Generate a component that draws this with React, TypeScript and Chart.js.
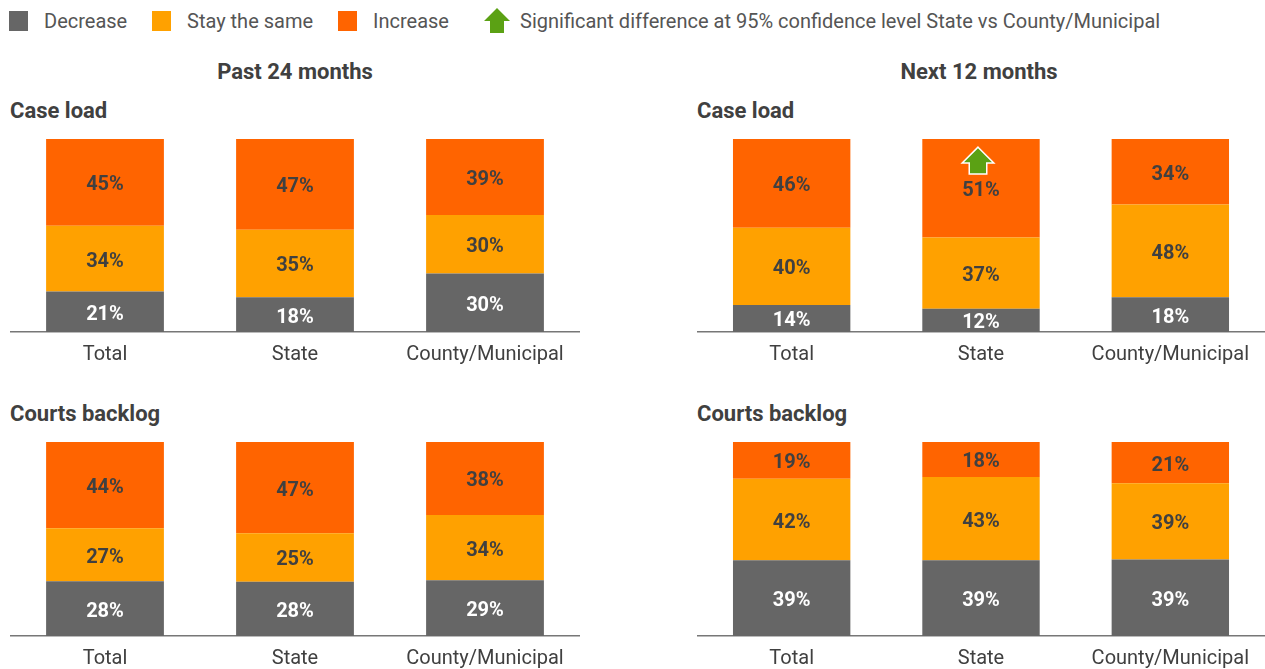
import React, { useEffect, useRef } from "react";
import { Chart, registerables } from "chart.js";
Chart.register(...registerables);

const categories = ["Total", "State", "County/Municipal"];
const seriesNames = ["Decrease", "Stay the same", "Increase"];
const seriesColors = ["#666666", "#FFA100", "#FF6400"];
const valueLabelColors = ["#ffffff", "#404040", "#404040"];
const significanceLabel = "Significant difference at 95% confidence level State vs County/Municipal";

const past24CaseDecrease = [21, 18, 30];
const past24CaseStay = [34, 35, 30];
const past24CaseIncrease = [45, 47, 39];

const past24BacklogDecrease = [28, 28, 29];
const past24BacklogStay = [27, 25, 34];
const past24BacklogIncrease = [44, 47, 38];

const next12CaseDecrease = [14, 12, 18];
const next12CaseStay = [40, 37, 48];
const next12CaseIncrease = [46, 51, 34];
const next12CaseIncreaseSignificant = [false, true, false];

const next12BacklogDecrease = [39, 39, 39];
const next12BacklogStay = [42, 43, 39];
const next12BacklogIncrease = [19, 18, 21];

const noSig = [false, false, false];

const FONT = "Roboto, 'Noto Sans', sans-serif";
const GREEN = "#5BA114";

function drawArrow(ctx: CanvasRenderingContext2D, cx: number, tipY: number, outline: boolean) {
  ctx.save();
  ctx.beginPath();
  ctx.moveTo(cx, tipY);
  ctx.lineTo(cx + 14, tipY + 14);
  ctx.lineTo(cx + 8, tipY + 14);
  ctx.lineTo(cx + 8, tipY + 25);
  ctx.lineTo(cx - 8, tipY + 25);
  ctx.lineTo(cx - 8, tipY + 14);
  ctx.lineTo(cx - 14, tipY + 14);
  ctx.closePath();
  if (outline) {
    ctx.strokeStyle = "#ffffff";
    ctx.lineWidth = 3;
    ctx.lineJoin = "miter";
    ctx.stroke();
  }
  ctx.fillStyle = GREEN;
  ctx.fill();
  ctx.restore();
}

const valueLabelPlugin = {
  id: "valueLabels",
  afterDatasetsDraw(chart: any) {
    const ctx = chart.ctx as CanvasRenderingContext2D;
    const opts = chart.options.plugins.valueLabels || {};
    const sig: boolean[][] = opts.significant || [];
    const raw: number[][] = opts.raw || [];
    chart.data.datasets.forEach((ds: any, di: number) => {
      const meta = chart.getDatasetMeta(di);
      meta.data.forEach((el: any, i: number) => {
        const v = raw[di] ? raw[di][i] : ds.data[i];
        const y = (el.y + el.base) / 2;
        ctx.save();
        ctx.font = `bold 20px ${FONT}`;
        ctx.fillStyle = valueLabelColors[di];
        ctx.textAlign = "center";
        ctx.textBaseline = "middle";
        ctx.fillText(`${v}%`, el.x, y + 3);
        ctx.restore();
        if (sig[di] && sig[di][i]) {
          drawArrow(ctx, el.x - 3, y - 40, true);
        }
      });
    });
  },
};

type PanelProps = {
  left: number;
  top: number;
  width: number;
  plotHeight: number;
  decrease: number[];
  stay: number[];
  increase: number[];
  increaseSig: boolean[];
};

function Panel({ left, top, width, plotHeight, decrease, stay, increase, increaseSig }: PanelProps) {
  const ref = useRef<HTMLCanvasElement | null>(null);
  const axisH = 45;
  useEffect(() => {
    if (!ref.current) return;
    const series = [decrease, stay, increase];
    // 100% stacked: each bar is scaled to its own total
    const totals = categories.map((_, i) => series.reduce((s, d) => s + d[i], 0));
    const chart = new Chart(ref.current, {
      type: "bar",
      data: {
        labels: categories,
        datasets: series.map((d, i) => ({
          label: seriesNames[i],
          data: d.map((v, j) => (v / totals[j]) * 100),
          backgroundColor: seriesColors[i],
          borderWidth: 0,
          categoryPercentage: 1,
          barPercentage: 0.62,
        })),
      },
      options: {
        responsive: false,
        maintainAspectRatio: false,
        animation: false,
        layout: { padding: 0 },
        plugins: {
          legend: { display: false },
          tooltip: { enabled: false },
          title: { display: false },
          valueLabels: { significant: [noSig, noSig, increaseSig], raw: series },
        } as any,
        scales: {
          x: {
            stacked: true,
            grid: { display: false, drawTicks: false },
            border: { display: true, color: "#777777", width: 1.5 },
            ticks: {
              padding: 11,
              color: "#404040",
              font: { family: FONT, size: 20 },
              maxRotation: 0,
              autoSkip: false,
            },
            afterFit: (scale: any) => {
              scale.height = axisH;
            },
          },
          y: {
            stacked: true,
            display: false,
            min: 0,
            max: 100,
          },
        },
      },
      plugins: [valueLabelPlugin],
    });
    return () => chart.destroy();
  }, []);
  return (
    <canvas
      ref={ref}
      width={width}
      height={plotHeight + axisH}
      style={{ position: "absolute", left, top, width, height: plotHeight + axisH }}
    />
  );
}

function LegendSquare({ x, color, label }: { x: number; color: string; label: string }) {
  return (
    <>
      <div style={{ position: "absolute", left: x, top: 11, width: 19, height: 20, background: color }} />
      <div style={{ position: "absolute", left: x + 35, top: 9, lineHeight: "24px", fontSize: 20, color: "#555555", whiteSpace: "nowrap" }}>
        {label}
      </div>
    </>
  );
}

export default function App() {
  const titleStyle: React.CSSProperties = {
    position: "absolute",
    fontWeight: "bold",
    fontSize: 22,
    lineHeight: "26px",
    color: "#404040",
    whiteSpace: "nowrap",
  };
  return (
    <div style={{ position: "fixed", left: 0, top: 0, width: 1265, height: 669, background: "#fff", fontFamily: FONT, overflow: "hidden" }}>
      <LegendSquare x={9} color={seriesColors[0]} label={seriesNames[0]} />
      <LegendSquare x={152} color={seriesColors[1]} label={seriesNames[1]} />
      <LegendSquare x={338} color={seriesColors[2]} label={seriesNames[2]} />
      <svg style={{ position: "absolute", left: 483, top: 8 }} width={28} height={26} viewBox="0 0 28 26">
        <polygon points="14,0 27,13 21,13 21,25 7,25 7,13 1,13" fill={GREEN} />
      </svg>
      <div style={{ position: "absolute", left: 520, top: 9, lineHeight: "24px", fontSize: 20, color: "#555555", whiteSpace: "nowrap" }}>
        {significanceLabel}
      </div>

      <div style={{ ...titleStyle, left: 0, width: 590, textAlign: "center", top: 59 }}>Past 24 months</div>
      <div style={{ ...titleStyle, left: 690, width: 578, textAlign: "center", top: 59 }}>Next 12 months</div>
      <div style={{ ...titleStyle, left: 10, top: 98 }}>Case load</div>
      <div style={{ ...titleStyle, left: 697, top: 98 }}>Case load</div>
      <div style={{ ...titleStyle, left: 10, top: 401 }}>Courts backlog</div>
      <div style={{ ...titleStyle, left: 697, top: 401 }}>Courts backlog</div>

      <Panel left={10} top={139} width={570} plotHeight={193}
        decrease={past24CaseDecrease} stay={past24CaseStay} increase={past24CaseIncrease} increaseSig={noSig} />
      <Panel left={697} top={139} width={568} plotHeight={193}
        decrease={next12CaseDecrease} stay={next12CaseStay} increase={next12CaseIncrease} increaseSig={next12CaseIncreaseSignificant} />
      <Panel left={10} top={442} width={570} plotHeight={194}
        decrease={past24BacklogDecrease} stay={past24BacklogStay} increase={past24BacklogIncrease} increaseSig={noSig} />
      <Panel left={697} top={442} width={568} plotHeight={194}
        decrease={next12BacklogDecrease} stay={next12BacklogStay} increase={next12BacklogIncrease} increaseSig={noSig} />
    </div>
  );
}
